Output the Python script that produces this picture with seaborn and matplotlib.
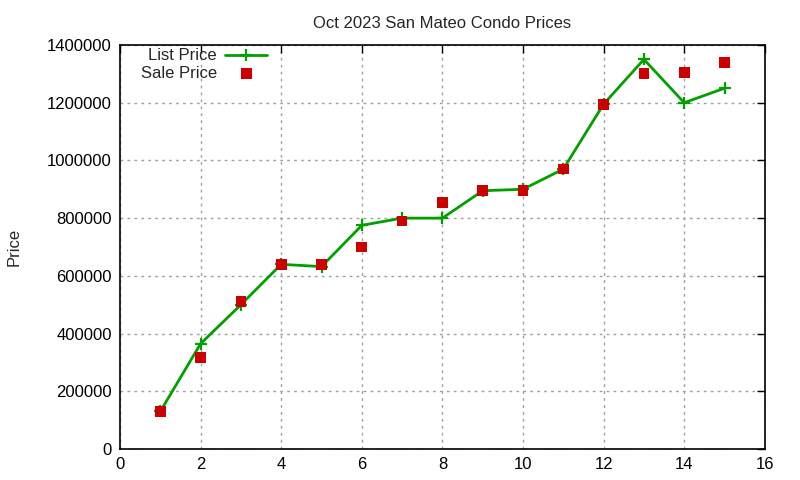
import numpy as np
import pandas as pd
import matplotlib
matplotlib.use("Agg")
import matplotlib.pyplot as plt
import seaborn as sns

# Values
listing = [1, 2, 3, 4, 5, 6, 7, 8, 9, 10, 11, 12, 13, 14, 15]
list_price = [130000, 365000, 500000, 640000, 632000, 775000, 800000, 800000,
              895000, 900000, 970000, 1195000, 1350000, 1200000, 1250000]
sale_price = [130000, 318000, 510000, 640000, 640000, 700000, 790000, 855000,
              895000, 895000, 970000, 1195000, 1300000, 1305000, 1340000]

x_ticks = [0, 2, 4, 6, 8, 10, 12, 14, 16]
y_ticks = [0, 200000, 400000, 600000, 800000, 1000000, 1200000, 1400000]

df = pd.DataFrame({"n": listing, "list": list_price, "sale": sale_price})

sns.set_style("white")
plt.rcParams['font.family'] = ['Liberation Sans', 'DejaVu Sans']
plt.rcParams['font.size'] = 12

fig = plt.figure(figsize=(8, 4.8), dpi=100)
ax = fig.add_axes([0.15, 0.0646, 0.806, 0.8417])

green = "#00a000"
sns.lineplot(data=df, x="n", y="list", ax=ax, color=green, linewidth=2,
             marker="+", markersize=9, markeredgewidth=1.6,
             markeredgecolor=green, label="List Price")
sns.scatterplot(data=df, x="n", y="sale", ax=ax, color="#cc0000", marker="s",
                s=60, edgecolor="none", label="Sale Price", zorder=3)

ax.set_xlim(0, 16)
ax.set_ylim(0, 1400000)
ax.set_xticks(x_ticks)
ax.set_yticks(y_ticks)
ax.set_xticklabels([str(t) for t in x_ticks])
ax.set_yticklabels([str(t) for t in y_ticks])
ax.tick_params(direction="in", length=6, width=1, top=True, right=True,
               labelsize=12, colors="black", pad=6)
ax.grid(True, color="#a0a0a0", linestyle=(0, (2, 3)), linewidth=1)
for s in ax.spines.values():
    s.set_color("black")
    s.set_linewidth(1.2)

ax.set_xlabel("")
ax.set_ylabel("Price", fontsize=12, labelpad=18)
ax.set_title("Oct 2023 San Mateo Condo Prices", fontsize=12, pad=12)

ax.legend(loc="upper left", frameon=False, markerfirst=False, fontsize=12,
          handlelength=2.5, handletextpad=0.5, borderaxespad=0.0,
          labelspacing=0.15, bbox_to_anchor=(0.022, 1.008))

fig.savefig("out.png", dpi=100)
